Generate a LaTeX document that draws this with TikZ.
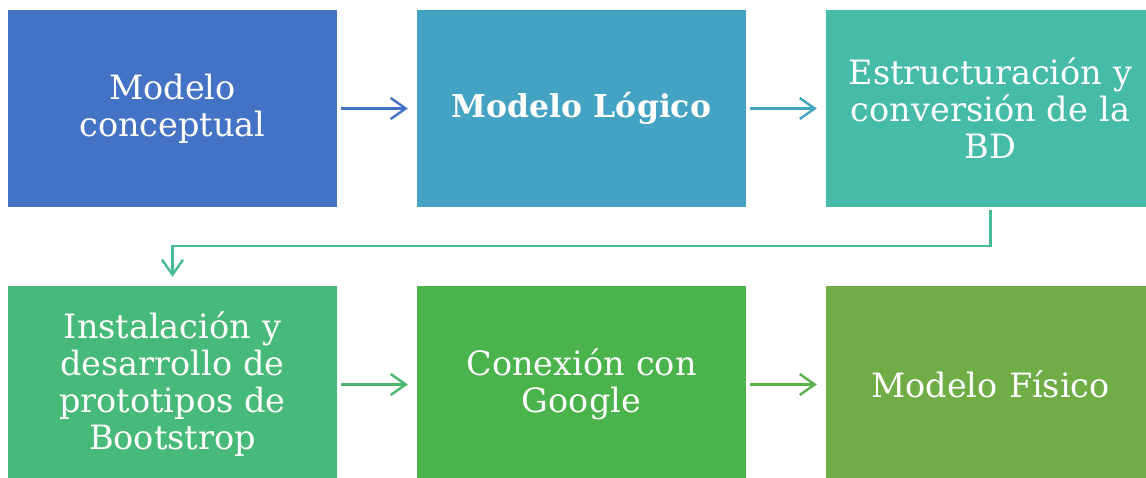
\documentclass[tikz,border=0pt]{standalone}
\usepackage{fontspec}
\setmainfont{DejaVu Serif}
\usetikzlibrary{arrows.meta}
\definecolor{cA}{HTML}{4472C4}
\definecolor{cB}{HTML}{44A2C2}
\definecolor{cC}{HTML}{46BCA8}
\definecolor{cD}{HTML}{47B978}
\definecolor{cE}{HTML}{4AB34B}
\definecolor{cF}{HTML}{70AD47}
\tikzset{
  stage/.style={rectangle, minimum width=329pt, minimum height=197pt, inner sep=0pt,
    text=white, align=center, text width=322pt,
    font=\fontsize{33.5}{37}\selectfont},
  flow/.style={line width=2.4pt, -{Straight Barb[length=15pt,width=21pt,line width=2.4pt]}}
}
\begin{document}
\begin{tikzpicture}[x=1pt,y=1pt]
\useasboundingbox (0,0) rectangle (1146,478);
\clip (0,0) rectangle (1146,478);
\node[stage, fill=cA] (b1) at (172.5,369.5) {Modelo\\conceptual};
\node[stage, fill=cB] (b2) at (581.5,369.5) {\fontsize{31.5}{37}\selectfont\textbf{Modelo Lógico}};
\node[stage, fill=cC] (b3) at (990.5,369.5) {Estructuración y\\conversión de la\\BD};
\node[stage, fill=cD] (b4) at (172.5,93.5) {Instalación y\\desarrollo de\\prototipos de\\Bootstrop};
\node[stage, fill=cE] (b5) at (581.5,93.5) {Conexión con\\Google};
\node[stage, fill=cF] (b6) at (990.5,93.5) {Modelo Físico};
\draw[flow, draw=cA, shorten <=4pt, shorten >=9pt] (b1) -- (b2);
\draw[flow, draw=cB!85!cC, shorten <=4pt, shorten >=9pt] (b2) -- (b3);
\draw[flow, draw=cC!60!cD, shorten <=3pt, shorten >=9pt] (b3.south) -- ++(0,-39) -| (b4.north);
\draw[flow, draw=cD!70!cE, shorten <=4pt, shorten >=9pt] (b4) -- (b5);
\draw[flow, draw=cE!60!cF, shorten <=4pt, shorten >=9pt] (b5) -- (b6);
\end{tikzpicture}
\end{document}
